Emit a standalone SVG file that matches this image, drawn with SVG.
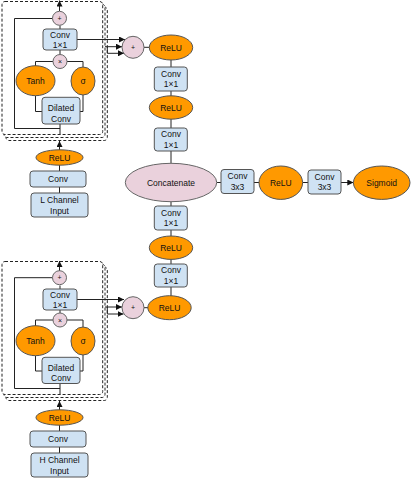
<svg xmlns="http://www.w3.org/2000/svg" width="415" height="480" viewBox="0 0 415 480">
<style>
text{font-family:"Liberation Sans",Arial,sans-serif;font-size:8.5px;fill:#111;text-anchor:middle}
.box{fill:#cfe2f3;stroke:#555;stroke-width:1}
.org{fill:#ff9900;stroke:#555;stroke-width:1}
.pink{fill:#ead1dc;stroke:#666;stroke-width:1}
.dash{fill:#fff;stroke:#222;stroke-width:1;stroke-dasharray:3,2}
.ln{fill:none;stroke:#222;stroke-width:1}
.ar{fill:none;stroke:#222;stroke-width:1;marker-end:url(#ah)}
.sm{font-size:7px}
</style>
<defs>
<marker id="ah" viewBox="0 0 10 10" refX="10" refY="5" markerWidth="6" markerHeight="6" orient="auto" markerUnits="userSpaceOnUse">
<path d="M0,0L10,5L0,10z" fill="#111"/>
</marker>
</defs>
<rect width="415" height="480" fill="#fff"/>

<g id="frameL">
<rect class="dash" x="6" y="7" width="101.3" height="133.5" rx="3"/>
<rect class="dash" x="4" y="4.2" width="101" height="133.3" rx="3"/>
<rect class="dash" x="2" y="1.5" width="100.7" height="133" rx="3"/>
</g>
<g id="frameH">
<rect class="dash" x="6" y="267" width="101.3" height="133.5" rx="3"/>
<rect class="dash" x="4" y="264.2" width="101" height="133.3" rx="3"/>
<rect class="dash" x="2" y="261.5" width="100.7" height="133" rx="3"/>
</g>

<g id="connectors">
<path class="ar" d="M59.5,11 V0.5"/>
<path class="ln" d="M60,29 V25.5"/>
<path class="ln" d="M60,50 V54.5"/>
<path class="ln" d="M53,61.5 H35.5 V66"/>
<path class="ln" d="M67,61.5 H83 V67"/>
<path class="ln" d="M35.5,95.5 V111.5 H42"/>
<path class="ln" d="M83,95 V111.5 H80"/>
<path class="ln" d="M60,124 V134.5"/>
<path class="ln" d="M60,128.5 H14.5 V18.5 H52.5"/>
<path class="ar" d="M59.5,150 V141"/>
<path class="ln" d="M59.5,165 V171"/>
<path class="ln" d="M59.5,187 V193"/>
<path class="ar" d="M77,39.5 H125"/>
<path class="ar" d="M105,46.7 H122"/>
<path class="ln" d="M107.3,46.7 V53.3"/>
<path class="ar" d="M107.3,53.3 H124"/>
<path class="ar" d="M59.5,271 V261"/>
<path class="ln" d="M60,289 V285.5"/>
<path class="ln" d="M60,310 V313"/>
<path class="ln" d="M53,320 H35.5 V326"/>
<path class="ln" d="M67,320 H83 V327"/>
<path class="ln" d="M35.5,355.5 V371 H42"/>
<path class="ln" d="M83,355 V371 H80"/>
<path class="ln" d="M60,383.5 V394.5"/>
<path class="ln" d="M60,388.5 H14.5 V277.7 H52.5"/>
<path class="ar" d="M59.5,410 V401"/>
<path class="ln" d="M59.5,425 V431"/>
<path class="ln" d="M59.5,447 V453"/>
<path class="ar" d="M77,299.5 H124"/>
<path class="ar" d="M105,307 H122"/>
<path class="ln" d="M107.3,307 V314"/>
<path class="ar" d="M107.3,314 H123.5"/>
<path class="ln" d="M144,47.3 H149.3"/>
<path class="ln" d="M171,60 V67"/>
<path class="ln" d="M171,91 V96"/>
<path class="ln" d="M171,119 V128"/>
<path class="ln" d="M171,151 V163.3"/>
<path class="ln" d="M171,201.7 V206"/>
<path class="ln" d="M171,230 V236"/>
<path class="ln" d="M171,259.3 V264"/>
<path class="ln" d="M171,287 V296"/>
<path class="ln" d="M144,307.7 H148"/>
<path class="ln" d="M216.7,182.5 H221"/>
<path class="ln" d="M254,182.5 H259"/>
<path class="ln" d="M302.6,182.5 H308"/>
<path class="ar" d="M341,182.5 H353.3"/>
</g>

<g id="plusL"><circle class="pink" cx="59.5" cy="18.3" r="7"/><text class="sm" x="59.5" y="20.8">+</text></g>
<g id="conv1L"><rect class="box" x="43" y="29" width="34" height="21" rx="3"/><text x="60" y="37.5">Conv</text><text x="60" y="48.3">1×1</text></g>
<g id="mulL"><circle class="pink" cx="60" cy="61.5" r="7"/><text class="sm" x="60" y="64">×</text></g>
<g id="tanhL"><ellipse class="org" cx="35.5" cy="80.7" rx="19.5" ry="15"/><text x="35.5" y="83.7">Tanh</text></g>
<g id="sigL"><ellipse class="org" cx="83" cy="81" rx="12" ry="14"/><text x="83" y="84">σ</text></g>
<g id="dilL"><rect class="box" x="42" y="97.3" width="38" height="26.7" rx="3"/><text x="61" y="111">Dilated</text><text x="61" y="121.7">Conv</text></g>
<g id="reluL"><ellipse class="org" cx="59.5" cy="157.5" rx="23.5" ry="7.7"/><text x="59.5" y="160.6">ReLU</text></g>
<g id="convL"><rect class="box" x="30" y="171" width="56" height="16" rx="3"/><text x="58" y="182">Conv</text></g>
<g id="inputL"><rect class="box" x="31" y="193" width="57" height="24" rx="3"/><text x="59.5" y="203.3">L Channel</text><text x="59.5" y="213.7">Input</text></g>

<g id="plusH"><circle class="pink" cx="59.5" cy="277.7" r="7"/><text class="sm" x="59.5" y="280.2">+</text></g>
<g id="conv1H"><rect class="box" x="43" y="289" width="34" height="21" rx="3"/><text x="60" y="297.5">Conv</text><text x="60" y="308.3">1×1</text></g>
<g id="mulH"><circle class="pink" cx="60" cy="320" r="7"/><text class="sm" x="60" y="322.5">×</text></g>
<g id="tanhH"><ellipse class="org" cx="35.5" cy="340.7" rx="19.5" ry="15"/><text x="35.5" y="343.7">Tanh</text></g>
<g id="sigH"><ellipse class="org" cx="83" cy="341" rx="12" ry="14"/><text x="83" y="344">σ</text></g>
<g id="dilH"><rect class="box" x="42" y="357.3" width="38" height="26.2" rx="3"/><text x="61" y="370.8">Dilated</text><text x="61" y="381.3">Conv</text></g>
<g id="reluH"><ellipse class="org" cx="59.5" cy="417.5" rx="23.5" ry="7.7"/><text x="59.5" y="420.6">ReLU</text></g>
<g id="convH"><rect class="box" x="30" y="431" width="56" height="16" rx="3"/><text x="58" y="442">Conv</text></g>
<g id="inputH"><rect class="box" x="31" y="453" width="57" height="24" rx="3"/><text x="59.5" y="463.3">H Channel</text><text x="59.5" y="473.7">Input</text></g>

<g id="addL"><circle class="pink" cx="133" cy="47.3" r="11"/><text class="sm" x="133" y="49.8">+</text></g>
<g id="relu1"><ellipse class="org" cx="171" cy="47.5" rx="21.7" ry="12.5"/><text x="171" y="50.6">ReLU</text></g>
<g id="c11a"><rect class="box" x="154.3" y="67" width="33" height="24" rx="3"/><text x="171" y="76.5">Conv</text><text x="171" y="87">1×1</text></g>
<g id="relu2"><ellipse class="org" cx="171" cy="107.5" rx="21.7" ry="11.7"/><text x="171" y="110.6">ReLU</text></g>
<g id="c11b"><rect class="box" x="154.3" y="128" width="33" height="23" rx="3"/><text x="171" y="137">Conv</text><text x="171" y="147.5">1×1</text></g>
<g id="concat"><ellipse class="pink" cx="171" cy="182.5" rx="45.7" ry="19.2"/><text x="171" y="185.6">Concatenate</text></g>
<g id="c33a"><rect class="box" x="221" y="169.5" width="33" height="24" rx="3"/><text x="237.5" y="179">Conv</text><text x="237.5" y="189.5">3x3</text></g>
<g id="relu3"><ellipse class="org" cx="280.8" cy="182.7" rx="21.8" ry="16.7"/><text x="280.8" y="185.8">ReLU</text></g>
<g id="c33b"><rect class="box" x="308" y="170" width="33" height="24" rx="3"/><text x="324.5" y="179.5">Conv</text><text x="324.5" y="190">3x3</text></g>
<g id="sigmoid"><ellipse class="org" cx="381.7" cy="182.7" rx="28.3" ry="16.7"/><text x="381.7" y="185.8">Sigmoid</text></g>
<g id="c11c"><rect class="box" x="154.3" y="206" width="33" height="24" rx="3"/><text x="171" y="215.5">Conv</text><text x="171" y="226">1×1</text></g>
<g id="relu4"><ellipse class="org" cx="171" cy="247.7" rx="21.7" ry="11.7"/><text x="171" y="250.8">ReLU</text></g>
<g id="c11d"><rect class="box" x="154.3" y="264" width="33" height="23" rx="3"/><text x="171" y="273">Conv</text><text x="171" y="283.5">1×1</text></g>
<g id="addH"><circle class="pink" cx="133" cy="307.7" r="11"/><text class="sm" x="133" y="310.2">+</text></g>
<g id="relu5"><ellipse class="org" cx="169.5" cy="307.7" rx="21.7" ry="12"/><text x="169.5" y="310.8">ReLU</text></g>
</svg>
